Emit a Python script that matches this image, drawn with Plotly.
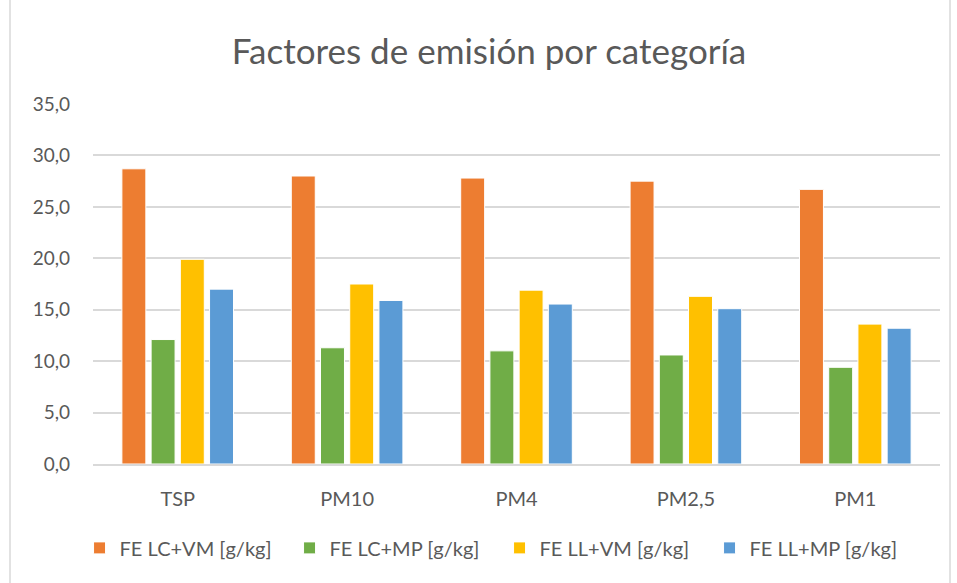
import plotly.graph_objects as go

categorias = ['TSP', 'PM10', 'PM4', 'PM2,5', 'PM1']

fe_lc_vm = [28.7, 28.0, 27.8, 27.5, 26.7]
fe_lc_mp = [12.1, 11.3, 11.0, 10.6, 9.4]
fe_ll_vm = [19.9, 17.5, 16.9, 16.3, 13.6]
fe_ll_mp = [17.0, 15.9, 15.55, 15.1, 13.2]

series = [
    ('FE LC+VM [g/kg]', fe_lc_vm, '#ED7D31'),
    ('FE LC+MP [g/kg]', fe_lc_mp, '#70AD47'),
    ('FE LL+VM [g/kg]', fe_ll_vm, '#FFC000'),
    ('FE LL+MP [g/kg]', fe_ll_mp, '#5B9BD5'),
]

fig = go.Figure()
for nombre, valores, color in series:
    fig.add_trace(go.Bar(
        x=categorias, y=valores, name=nombre,
        marker=dict(color=color, line=dict(color='white', width=1)),
    ))

gris = '#595959'
fig.update_layout(
    width=957, height=583,
    paper_bgcolor='white', plot_bgcolor='white',
    font=dict(family='Lato, Open Sans, sans-serif', color=gris, size=20),
    title=dict(text='Factores de emisión por categoría', x=0.511, xanchor='center',
               y=0.911, yanchor='middle', font=dict(size=35, color=gris)),
    margin=dict(l=93, r=17, t=104, b=119),
    barmode='group', bargap=0.31, bargroupgap=0.18,
    separators=',.',
    legend=dict(orientation='h', x=0.48, xanchor='center', y=-0.233, yanchor='middle',
                font=dict(size=20, color=gris), traceorder='normal',
                entrywidth=165, entrywidthmode='pixels'),
    showlegend=True,
)
fig.update_yaxes(range=[0, 35], dtick=5, tickformat='.1f', showgrid=True,
                 gridcolor='#D9D9D9', gridwidth=1.5, zeroline=False,
                 showline=False, ticks='', ticklabelstandoff=22,
                 tickfont=dict(size=19))
fig.update_xaxes(showline=True, linecolor='#D9D9D9', linewidth=1.5,
                 ticks='', ticklabelstandoff=16, tickfont=dict(size=20))

# marco del gráfico
fig.add_shape(type='rect', xref='paper', yref='paper',
              x0=(10 - 93) / 847, x1=(950 - 93) / 847, y0=-0.5, y1=1.5,
              line=dict(color='#D9D9D9', width=1.5), layer='below')

fig.write_html('out.html', config={'displayModeBar': False},
               post_script="document.body.style.margin='0';")
